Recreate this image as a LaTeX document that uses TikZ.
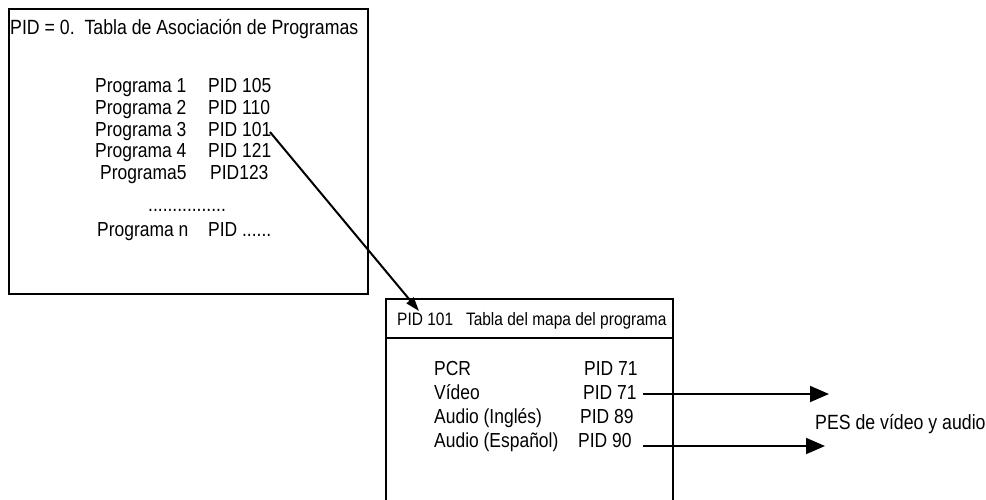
\documentclass[tikz,border=0pt]{standalone}
\usepackage{fontspec}
\setmainfont{Liberation Sans}[FakeStretch=0.86]
\usetikzlibrary{arrows.meta}
\tikzset{
  box/.style={draw, line width=2.8pt, inner sep=0pt, outer sep=0pt},
  txt/.style={anchor=base west, inner sep=0pt, font=\fontsize{20.3}{22}\selectfont},
  hdr/.style={anchor=base west, inner sep=0pt, font=\fontsize{18}{20}\selectfont},
  link/.style={line width=2pt, -{Triangle[length=14pt,width=9pt]}},
  outarrow/.style={line width=1.8pt, -{Triangle[length=19pt,width=16pt]}}
}
\begin{document}
\begin{tikzpicture}[x=1pt,y=-1pt]
\useasboundingbox (0,0) rectangle (986,499);
% Box 1
\node[box, minimum width=359pt, minimum height=285pt] (pat) at (188.5,151.5) {};
\node[txt, font=\fontsize{20.6}{22}\selectfont] (pattitle) at (10,34) {PID = 0.\ \ Tabla de Asociación de Programas};
\node[txt] (p1) at (95,92) {Programa 1};
\node[txt] (p2) at (95,114) {Programa 2};
\node[txt] (p3) at (95,136) {Programa 3};
\node[txt] (p4) at (95,157) {Programa 4};
\node[txt] (p5) at (100,179) {Programa5};
\node[txt] (pn) at (97,236) {Programa n};
\node[txt] (q1) at (208,92) {PID 105};
\node[txt] (q2) at (208,114) {PID 110};
\node[txt] (q3) at (208,136) {PID 101};
\node[txt] (q4) at (208,157) {PID 121};
\node[txt] (q5) at (210,179) {PID123};
\node[txt] (dots) at (148,211) {................};
\node[txt] (qn) at (208,236) {PID ......};
% Box 2
\node[box, minimum width=287pt, minimum height=220pt] (pmt) at (529.5,409) {};
\draw[line width=2.8pt] (pmt.west |- 0,338) -- (pmt.east |- 0,338);
\node[hdr] (pmttitle) at (397,325) {PID 101\ \ \ Tabla del mapa del programa};
\node[txt] (e1) at (434,375) {PCR};
\node[txt] (e2) at (434,399) {Vídeo};
\node[txt] (e3) at (434,423) {Audio (Inglés)};
\node[txt] (e4) at (434,447) {Audio (Español)};
\node[txt] (f1) at (584,375) {PID 71};
\node[txt] (f2) at (583,399) {PID 71};
\node[txt] (f3) at (580,423) {PID 89};
\node[txt] (f4) at (578,447) {PID 90};
\node[txt, font=\fontsize{20.6}{22}\selectfont] (pes) at (815,429) {PES de vídeo y audio};
% connectors
\coordinate (src) at (270,132);
\coordinate (dst) at (419,311);
\draw[link] (src) -- (dst);
\coordinate (v1) at (643,394);
\coordinate (v2) at (829,394);
\coordinate (a1) at (643,446);
\coordinate (a2) at (825,446);
\draw[outarrow] (v1) -- (v2);
\draw[outarrow] (a1) -- (a2);
\end{tikzpicture}
\end{document}
